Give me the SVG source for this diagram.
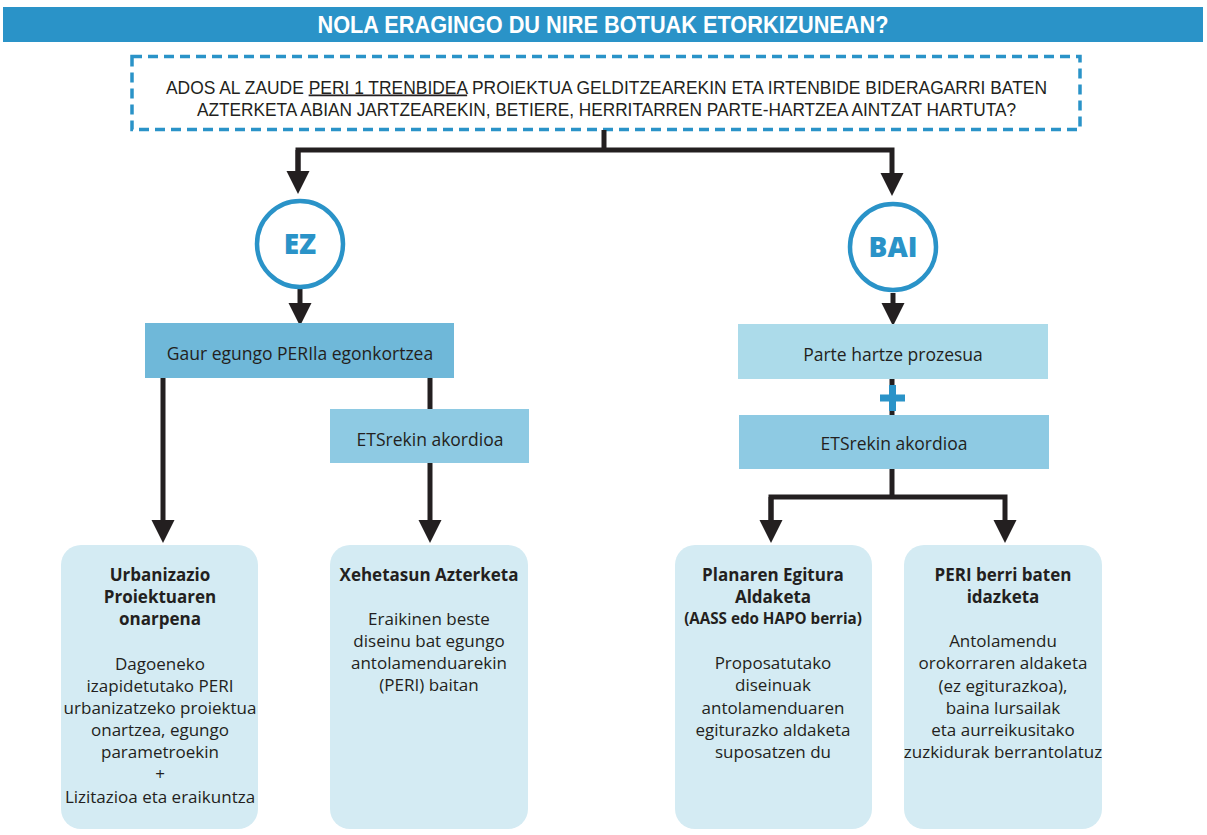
<svg xmlns="http://www.w3.org/2000/svg" width="1207" height="835" viewBox="0 0 1207 835">
<style>
.t{font-family:"Open Sans","Noto Sans","Liberation Sans",sans-serif;fill:#231f20;font-size:17px;text-anchor:middle}
.lb{font-size:17.5px}
.b{font-weight:bold}
.sm{font-size:15.2px}
.q{font-family:"Liberation Sans",Arial,sans-serif;fill:#231f20;font-size:17.5px}
.ln{fill:none;stroke:#231f20;stroke-width:5}
.card{fill:#d4ebf3}
.circ{fill:#fff;stroke:#2a93c8;stroke-width:4.5}
.ct{font-family:"Open Sans","Liberation Sans",sans-serif;font-weight:800;font-size:28px;fill:#2a93c8;text-anchor:middle}
</style>
<defs>
<marker id="ah" markerUnits="userSpaceOnUse" markerWidth="24" markerHeight="24" viewBox="0 0 24 24" refX="1" refY="12" orient="auto">
<path d="M0,0.5 L23,12 L0,23.5 Z" fill="#231f20"/>
</marker>
</defs>
<rect width="1207" height="835" fill="#fff"/>
<g id="title">
<rect x="3" y="7" width="1200" height="35" fill="#2a93c8"/>
<text x="603" y="33" font-family="'Liberation Sans',Arial,sans-serif" font-weight="bold" font-size="23" fill="#fff" text-anchor="middle" textLength="571" lengthAdjust="spacingAndGlyphs">NOLA ERAGINGO DU NIRE BOTUAK ETORKIZUNEAN?</text>
</g>
<g id="question">
<rect x="132" y="56.5" width="948" height="73" fill="none" stroke="#2a93c8" stroke-width="3.5" stroke-dasharray="10 6"/>
<text class="q" x="166" y="93.5" textLength="881" lengthAdjust="spacingAndGlyphs">ADOS AL ZAUDE <tspan text-decoration="underline">PERI 1 TRENBIDEA</tspan> PROIEKTUA GELDITZEAREKIN ETA IRTENBIDE BIDERAGARRI BATEN</text>
<text class="q" x="197" y="115.5" textLength="819" lengthAdjust="spacingAndGlyphs">AZTERKETA ABIAN JARTZEAREKIN, BETIERE, HERRITARREN PARTE-HARTZEA AINTZAT HARTUTA?</text>
</g>
<g id="connectors">
<path class="ln" d="M604,130 V150"/>
<path class="ln" d="M298,172 V150 H892 V174" marker-end="url(#ah)"/>
<path class="ln" d="M298,150 V172" marker-end="url(#ah)"/>
<path class="ln" d="M300,289 V304" marker-end="url(#ah)"/>
<path class="ln" d="M893,293 V304" marker-end="url(#ah)"/>
<path class="ln" d="M163,378 V521" marker-end="url(#ah)"/>
<path class="ln" d="M430,378 V409"/>
<path class="ln" d="M430,463 V521" marker-end="url(#ah)"/>
<path class="ln" d="M892,379 V415"/>
<path class="ln" d="M892,469 V497"/>
<path class="ln" d="M771,521 V497 H1005 V521" marker-end="url(#ah)"/>
<path class="ln" d="M771,497 V521" marker-end="url(#ah)"/>
</g>
<g id="ez">
<circle class="circ" cx="300" cy="244" r="43"/>
<text class="ct" x="300" y="254">EZ</text>
</g>
<g id="bai">
<circle class="circ" cx="893" cy="247" r="43"/>
<text class="ct" x="893" y="257">BAI</text>
</g>
<g id="gaur">
<rect x="145" y="323" width="309" height="55" fill="#6fb8d9"/>
<text class="t lb" x="300" y="360">Gaur egungo PERIla egonkortzea</text>
</g>
<g id="ets-left">
<rect x="330" y="409" width="199" height="54" fill="#8ecae3"/>
<text class="t lb" x="430" y="446">ETSrekin akordioa</text>
</g>
<g id="parte">
<rect x="738" y="324" width="310" height="55" fill="#acdbea"/>
<text class="t lb" x="893" y="361">Parte hartze prozesua</text>
</g>
<g id="plus">
<rect x="880" y="394.5" width="25" height="7" fill="#2a93c8"/>
<rect x="889" y="385" width="7" height="26" fill="#2a93c8"/>
</g>
<g id="ets-right">
<rect x="739" y="415" width="310" height="54" fill="#8ecae3"/>
<text class="t lb" x="894" y="450">ETSrekin akordioa</text>
</g>
<g id="card1">
<rect class="card" x="61" y="545" width="197" height="284" rx="20"/>
<text class="t b" x="160" y="581">Urbanizazio</text>
<text class="t b" x="160" y="603">Proiektuaren</text>
<text class="t b" x="160" y="625">onarpena</text>
<text class="t" x="160" y="670">Dagoeneko</text>
<text class="t" x="160" y="692">izapidetutako PERI</text>
<text class="t" x="160" y="714">urbanizatzeko proiektua</text>
<text class="t" x="160" y="736">onartzea, egungo</text>
<text class="t" x="160" y="758">parametroekin</text>
<text class="t" x="160" y="780">+</text>
<text class="t" x="160" y="803">Lizitazioa eta eraikuntza</text>
</g>
<g id="card2">
<rect class="card" x="330" y="545" width="198" height="284" rx="20"/>
<text class="t b" x="429" y="581">Xehetasun Azterketa</text>
<text class="t" x="429" y="625">Eraikinen beste</text>
<text class="t" x="429" y="647">diseinu bat egungo</text>
<text class="t" x="429" y="669">antolamenduarekin</text>
<text class="t" x="429" y="691">(PERI) baitan</text>
</g>
<g id="card3">
<rect class="card" x="675" y="545" width="197" height="284" rx="20"/>
<text class="t b" x="773" y="581">Planaren Egitura</text>
<text class="t b" x="773" y="603">Aldaketa</text>
<text class="t b sm" x="773" y="624">(AASS edo HAPO berria)</text>
<text class="t" x="773" y="669">Proposatutako</text>
<text class="t" x="773" y="691">diseinuak</text>
<text class="t" x="773" y="714">antolamenduaren</text>
<text class="t" x="773" y="736">egiturazko aldaketa</text>
<text class="t" x="773" y="758">suposatzen du</text>
</g>
<g id="card4">
<rect class="card" x="904" y="545" width="198" height="284" rx="20"/>
<text class="t b" x="1003" y="581">PERI berri baten</text>
<text class="t b" x="1003" y="603">idazketa</text>
<text class="t" x="1003" y="647">Antolamendu</text>
<text class="t" x="1003" y="669">orokorraren aldaketa</text>
<text class="t" x="1003" y="692">(ez egiturazkoa),</text>
<text class="t" x="1003" y="714">baina lursailak</text>
<text class="t" x="1003" y="736">eta aurreikusitako</text>
<text class="t" x="1003" y="758">zuzkidurak berrantolatuz</text>
</g>
</svg>
